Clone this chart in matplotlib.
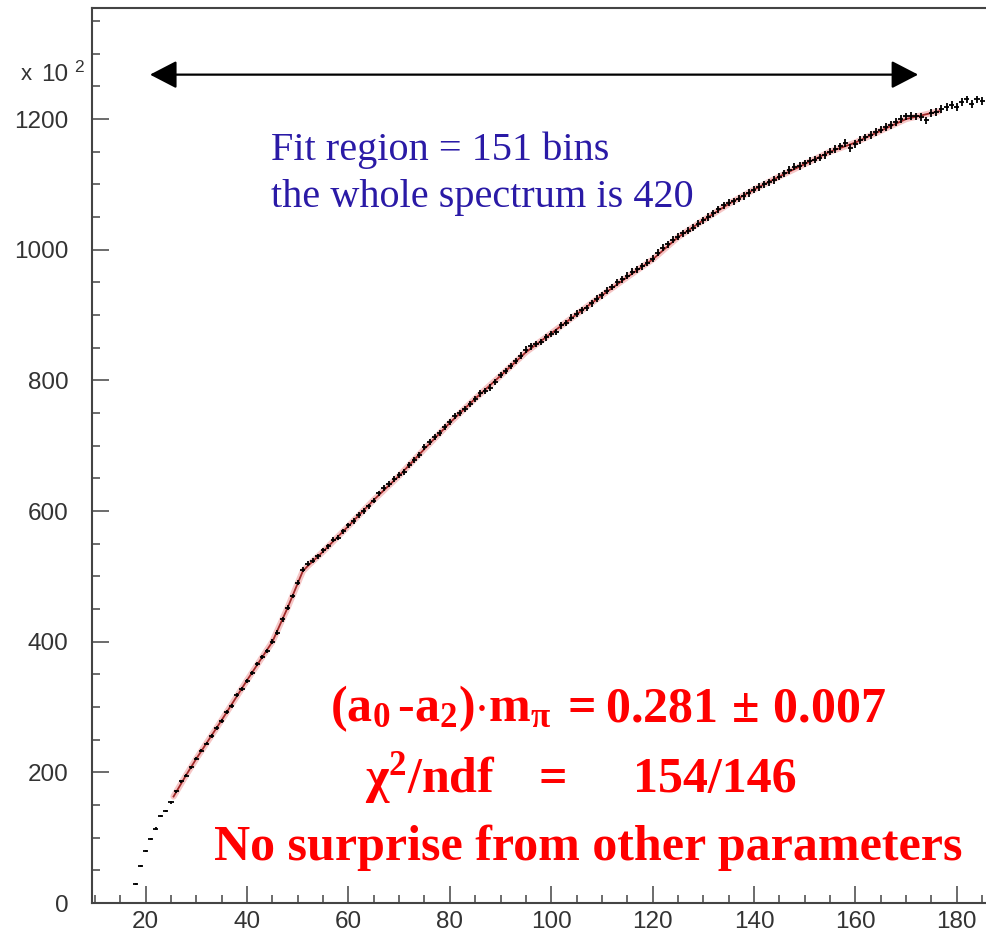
import numpy as np
import matplotlib
matplotlib.use("Agg")
import matplotlib.pyplot as plt
from matplotlib.ticker import MultipleLocator

plt.rcParams['mathtext.fontset'] = 'custom'
plt.rcParams['mathtext.rm'] = 'Liberation Serif:bold'
plt.rcParams['mathtext.it'] = 'Liberation Serif:bold'
plt.rcParams['mathtext.bf'] = 'Liberation Serif:bold'

# ---- data (units of 10^2 counts) ----
bin_centers = list(range(18, 186))
counts = [
    29, 57, 80, 98, 114, 133, 141, 154, 171, 186,          # 18-27
    195, 208, 221, 233, 244, 256, 268, 279, 292, 301,       # 28-37
    318, 328, 340, 352, 366, 377, 386, 400, 414, 434,       # 38-47
    452, 470, 490, 510, 519, 524, 531, 540, 546, 556,       # 48-57
    559, 569, 578, 585, 594, 600, 607, 616, 627, 635,       # 58-67
    641, 649, 655, 660, 670, 678, 686, 698, 706, 713,       # 68-77
    720, 728, 736, 745, 750, 756, 764, 772, 780, 784,       # 78-87
    789, 797, 808, 814, 822, 830, 838, 847, 852, 856,       # 88-97
    859, 866, 871, 874, 884, 888, 896, 902, 907, 911,       # 98-107
    918, 925, 930, 937, 943, 950, 955, 960, 966, 970,       # 108-117
    975, 980, 986, 995, 1003, 1008, 1015, 1020, 1025, 1029, # 118-127
    1034, 1040, 1045, 1050, 1056, 1062, 1068, 1072, 1074, 1078,  # 128-137
    1082, 1087, 1092, 1096, 1100, 1103, 1107, 1112, 1117, 1122,  # 138-147
    1127, 1128, 1132, 1136, 1138, 1141, 1145, 1150, 1154, 1158,  # 148-157
    1163, 1156, 1162, 1168, 1172, 1176, 1180, 1184, 1188, 1191,  # 158-167
    1195, 1200, 1204, 1205, 1204, 1203, 1198, 1209, 1211, 1215,  # 168-177
    1218, 1222, 1218, 1226, 1230, 1223, 1230, 1228,              # 178-185
]

# fit curve
fit_x = [25.5, 28, 30, 35, 40, 45, 48, 51, 52, 55, 60, 65, 70, 75, 80, 85, 90,
         95, 100, 105, 110, 115, 120, 125, 130, 135, 140, 145, 150, 155, 160,
         165, 170, 176.5]
fit_y = [163, 196, 221, 280, 341, 400, 452, 508, 516, 538, 577, 617, 654, 695,
         735, 772, 807, 843, 872, 901, 930, 958, 985, 1019, 1045, 1070, 1092,
         1112, 1131, 1150, 1164, 1182, 1200, 1212]

x_ticks = [20, 40, 60, 80, 100, 120, 140, 160, 180]
y_ticks = [0, 200, 400, 600, 800, 1000, 1200]

blue_lines = ["Fit region = 151 bins", "the whole spectrum is 420"]
red_line1 = (r'$\mathrm{(a_{0}\,\text{-}a_{2}){\cdot}m_{\pi}}$', "=",
             r'$\mathrm{0.281\ {\pm}\ 0.007}$')
red_line2 = (r'$\mathrm{\chi^{2}/ndf}$', "=", "154/146")
red_line3 = "No surprise from other parameters"

# ---- figure ----
fig = plt.figure(figsize=(9.86, 9.35), dpi=100)
ax = fig.add_axes([92/986, 32/935, 1 - 92/986, (903-8)/935])

xc = np.array(bin_centers, dtype=float)
yc = np.array(counts, dtype=float)
yerr = 0.17 * np.sqrt(yc)

ax.plot(fit_x, fit_y, color='#f0a0a0', lw=4.5, alpha=0.6, solid_capstyle='round', zorder=2)
ax.plot(fit_x, fit_y, color='#a02828', lw=1.3, zorder=3)
ax.errorbar(xc, yc, xerr=0.5, yerr=yerr, fmt='none', ecolor='black',
            elinewidth=1.3, capsize=0, zorder=4)

ax.set_xlim(9.41, 185.78)
ax.set_ylim(0, 1370)
ax.set_xticks(x_ticks)
ax.set_yticks(y_ticks)
ax.xaxis.set_minor_locator(MultipleLocator(5))
ax.yaxis.set_minor_locator(MultipleLocator(50))

tick_col = '#333333'
ax.tick_params(axis='both', which='major', direction='in', length=12.5, width=1.1,
               color='#444444', labelcolor=tick_col, labelsize=17.5)
ax.tick_params(axis='both', which='minor', direction='in', length=6, width=1.1,
               color='#444444')
ax.tick_params(axis='y', which='major', pad=17)
ax.tick_params(axis='x', which='major', pad=6)
ax.tick_params(top=False, right=False, which='both')
for lab in ax.get_xticklabels() + ax.get_yticklabels():
    lab.set_fontfamily('Liberation Sans')

for s in ['left', 'bottom', 'top']:
    ax.spines[s].set_color('#444444')
    ax.spines[s].set_linewidth(1.5)
ax.spines['right'].set_visible(False)

# x 10^2 multiplier
fig.text(21/986, 1 - 80/935, 'x', fontsize=16, color=tick_col,
         family='Liberation Sans', va='baseline', ha='left')
fig.text(41/986, 1 - 81/935, '10', fontsize=17.5, color=tick_col,
         family='Liberation Sans', va='baseline', ha='left')
fig.text(74/986, 1 - 72/935, '2', fontsize=12.5, color=tick_col,
         family='Liberation Sans', va='baseline', ha='left')

# double arrow
ax.annotate('', xy=(20.85, 1268), xytext=(172.4, 1268),
            arrowprops=dict(arrowstyle='<|-|>,head_length=1.66,head_width=0.86',
                            mutation_scale=10, color='black', lw=1.6,
                            shrinkA=0, shrinkB=0))

# blue text
blue = '#2a1aa6'
ax.text(44.7, 1136.8, blue_lines[0], fontsize=29, color=blue,
        family='Liberation Serif', ha='left', va='baseline')
ax.text(44.7, 1064.9, blue_lines[1], fontsize=29, color=blue,
        family='Liberation Serif', ha='left', va='baseline')

# red text
red = '#ff0000'
bold_serif = dict(fontweight='bold', family='Liberation Serif')
ax.text(56.36, 278.5, red_line1[0], fontsize=36, color=red, ha='left', va='baseline')
ax.text(103.3, 278.5, red_line1[1], fontsize=36, color=red, ha='left', va='baseline',
        **bold_serif)
ax.text(166.05, 278.5, red_line1[2], fontsize=36, color=red, ha='right', va='baseline')
ax.text(63.26, 169.8, red_line2[0], fontsize=36, color=red, ha='left', va='baseline')
ax.text(97.5, 169.8, red_line2[1], fontsize=36, color=red, ha='left', va='baseline',
        **bold_serif)
ax.text(148.49, 169.8, red_line2[2], fontsize=36, color=red, ha='right', va='baseline',
        **bold_serif)
ax.text(107.35, 65.8, red_line3, fontsize=36, color=red, ha='center', va='baseline',
        **bold_serif)

fig.savefig('out.png', dpi=100)
